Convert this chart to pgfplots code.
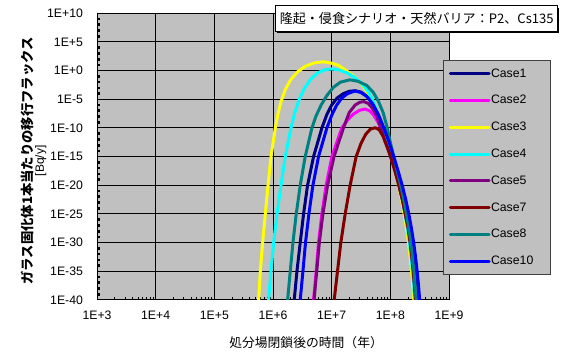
\documentclass[border=0pt]{standalone}
\usepackage{fontspec}
\setmainfont{Liberation Sans}
\newfontfamily\jp{Noto Sans CJK JP}
\usepackage{pgfplots}
\pgfplotsset{compat=1.18}

\definecolor{plotgray}{RGB}{192,192,192}
\definecolor{cNavy}{RGB}{0,0,128}
\definecolor{cMagenta}{RGB}{255,0,255}
\definecolor{cYellow}{RGB}{255,255,0}
\definecolor{cCyan}{RGB}{0,255,255}
\definecolor{cPurple}{RGB}{128,0,128}
\definecolor{cDarkRed}{RGB}{128,0,0}
\definecolor{cTeal}{RGB}{0,128,128}
\definecolor{cBlue}{RGB}{0,0,255}

\begin{document}
\begin{tikzpicture}
\useasboundingbox (0pt,0pt) rectangle (420.75pt,267pt);
\begin{axis}[
  at={(72.75pt,42pt)}, anchor=south west,
  scale only axis, width=264pt, height=215pt,
  xmode=log, ymode=log,
  xmin=1e3, xmax=1e9, ymin=1e-40, ymax=1e10,
  axis background/.style={fill=plotgray},
  xtick={1e3,1e4,1e5,1e6,1e7,1e8,1e9},
  xticklabels={1E+3,1E+4,1E+5,1E+6,1E+7,1E+8,1E+9},
  ytick={1e-40,1e-35,1e-30,1e-25,1e-20,1e-15,1e-10,1e-5,1,1e5,1e10},
  yticklabels={1E-40,1E-35,1E-30,1E-25,1E-20,1E-15,1E-10,1E-5,1E+0,1E+5,1E+10},
  minor xtick={2e3,3e3,4e3,5e3,6e3,7e3,8e3,9e3,
               2e4,3e4,4e4,5e4,6e4,7e4,8e4,9e4,
               2e5,3e5,4e5,5e5,6e5,7e5,8e5,9e5,
               2e6,3e6,4e6,5e6,6e6,7e6,8e6,9e6,
               2e7,3e7,4e7,5e7,6e7,7e7,8e7,9e7,
               2e8,3e8,4e8,5e8,6e8,7e8,8e8,9e8},
  minor ytick={1e-39,1e-38,1e-37,1e-36,1e-34,1e-33,1e-32,1e-31,
               1e-29,1e-28,1e-27,1e-26,1e-24,1e-23,1e-22,1e-21,
               1e-19,1e-18,1e-17,1e-16,1e-14,1e-13,1e-12,1e-11,
               1e-9,1e-8,1e-7,1e-6,1e-4,1e-3,1e-2,1e-1,
               1e1,1e2,1e3,1e4,1e6,1e7,1e8,1e9},
  tick pos=left,
  grid=major,
  major grid style={black, line width=0.75pt},
  axis line style={black, line width=0.75pt},
  major tick length=0pt,
  minor tick length=2.6pt,
  minor x tick style={black, line width=0.6pt},
  minor y tick style={black, line width=2pt},
  ticklabel style={font=\fontsize{9.2}{11}\selectfont},
  xticklabel style={yshift=-5pt},
  yticklabel style={xshift=-7pt},
  xlabel={\jp 処分場閉鎖後の時間（年）},
  xlabel style={at={(axis description cs:0.594,0)}, anchor=center, yshift=-32.25pt,
                font=\fontsize{9.6}{11}\selectfont},
  ylabel={{\jp\bfseries ガラス固化体1本当たりの移行フラックス}\\{\fontsize{9}{9}\selectfont [Bq/y]}},
  ylabel style={at={(axis description cs:-0.180,0.485)}, anchor=center, align=center,
                font=\fontsize{10}{8.5}\selectfont},
  legend cell align=left,
  legend image code/.code={\draw[#1, line width=2.25pt] (0pt,0pt) -- (29pt,0pt);},
  legend style={at={(axis description cs:0.983,0.837)}, anchor=north west,
                fill=plotgray, draw=black!75, line width=0.75pt,
                font=\fontsize{9.2}{11}\selectfont,
                inner xsep=4pt, inner ysep=5pt, row sep=10.3pt,
                nodes={inner sep=0.4pt, text height=7pt, text depth=2pt}},
  every axis plot/.append style={line width=2.25pt, line join=round, line cap=round},
]

% Case1
\addplot[cNavy] coordinates {
(2.138e6,1e-44) (2.301e6,1e-40) (2.559e6,1e-35) (2.911e6,1e-30) (3.319e6,1e-25)
(3.882e6,1e-20) (4.909e6,1e-15) (6.808e6,1e-10) (8.318e6,2.512e-8) (1e7,1e-6)
(1.230e7,1.585e-5) (1.585e7,1e-4) (1.995e7,2.512e-4) (2.512e7,3.162e-4) (3.162e7,1.778e-4)
(3.981e7,3.548e-5) (5.012e7,1.585e-6) (6.166e7,1.995e-8) (7.586e7,1e-10) (9.333e7,3.162e-13)
(1.117e8,1e-15) (1.312e8,3.162e-18) (1.521e8,1e-20) (1.738e8,3.162e-23) (1.950e8,1e-25)
(2.163e8,3.162e-28) (2.355e8,1e-30) (2.529e8,3.162e-33) (2.692e8,1e-35) (2.838e8,3.162e-38)
(2.965e8,1e-40) (3.199e8,1e-44)
};
\addlegendentry{\makebox[40pt][l]{Case1}}

% Case2
\addplot[cMagenta] coordinates {
(4.571e6,1e-44) (4.909e6,1e-40) (5.445e6,1e-35) (5.970e6,1e-30) (6.808e6,1e-25)
(8.054e6,1e-20) (1.007e7,1e-15) (1.489e7,1e-10) (1.905e7,3.162e-9) (2.399e7,3.162e-8)
(3.020e7,1.259e-7) (3.715e7,1.995e-7) (4.467e7,1e-7) (5.248e7,1.585e-8) (6.166e7,1e-9)
(7.244e7,3.162e-11) (8.610e7,2.512e-13) (1.023e8,1e-15) (1.202e8,3.162e-18) (1.396e8,1e-20)
(1.603e8,3.162e-23) (1.799e8,1e-25) (2.018e8,3.162e-28) (2.188e8,1e-30) (2.333e8,3.162e-33)
(2.466e8,1e-35) (2.588e8,3.162e-38) (2.692e8,1e-40) (2.884e8,1e-44)
};
\addlegendentry{\makebox[40pt][l]{Case2}}

% Case3
\addplot[cYellow] coordinates {
(5.309e5,1e-44) (5.689e5,1e-40) (6.081e5,1e-35) (6.653e5,1e-30) (7.396e5,1e-25)
(8.222e5,1e-20) (9.247e5,1e-15) (1.094e6,1e-10) (1.216e6,3.162e-8) (1.380e6,5.012e-6)
(1.622e6,5.012e-4) (1.995e6,2.512e-2) (2.630e6,0.6310) (3.548e6,5.623) (5.012e6,22.39)
(7.244e6,35.48) (1e7,19.95) (1.318e7,7.943) (1.778e7,1) (2.399e7,0.1)
(3.162e7,6.310e-3) (4.169e7,1.259e-4) (5.370e7,1e-6) (6.457e7,1e-8) (7.413e7,1e-10)
(8.810e7,3.162e-13) (1.030e8,1e-15) (1.197e8,3.162e-18) (1.371e8,1e-20) (1.549e8,3.162e-23)
(1.718e8,1e-25) (1.884e8,3.162e-28) (2.042e8,1e-30) (2.178e8,3.162e-33) (2.301e8,1e-35)
(2.415e8,3.162e-38) (2.512e8,1e-40) (2.692e8,1e-44)
};
\addlegendentry{\makebox[40pt][l]{Case3}}

% Case4
\addplot[cCyan] coordinates {
(7.852e5,1e-44) (8.414e5,1e-40) (9.247e5,1e-35) (1.026e6,1e-30) (1.169e6,1e-25)
(1.368e6,1e-20) (1.618e6,1e-15) (2.023e6,1e-10) (2.344e6,3.981e-8) (2.754e6,6.310e-6)
(3.388e6,6.310e-4) (4.365e6,3.162e-2) (5.754e6,0.3981) (7.586e6,1.413) (1e7,1.995)
(1.318e7,1.413) (1.778e7,0.4467) (2.399e7,7.943e-2) (3.162e7,7.943e-3) (4.169e7,2.512e-4)
(5.248e7,2.512e-6) (6.310e7,1.585e-8) (7.586e7,7.943e-11) (9.120e7,3.162e-13) (1.067e8,1e-15)
(1.239e8,3.162e-18) (1.419e8,1e-20) (1.603e8,3.162e-23) (1.778e8,1e-25) (1.950e8,3.162e-28)
(2.113e8,1e-30) (2.254e8,3.162e-33) (2.382e8,1e-35) (2.500e8,3.162e-38) (2.600e8,1e-40)
(2.786e8,1e-44)
};
\addlegendentry{\makebox[40pt][l]{Case4}}

% Case5
\addplot[cPurple] coordinates {
(4.677e6,1e-44) (5.012e6,1e-40) (5.559e6,1e-35) (6.166e6,1e-30) (7.079e6,1e-25)
(8.511e6,1e-20) (1.096e7,1e-15) (1.585e7,1e-10) (1.995e7,5.012e-8) (2.512e7,1e-6)
(3.020e7,3.162e-6) (3.548e7,3.981e-6) (4.169e7,1.995e-6) (5.012e7,2.512e-7) (5.888e7,1e-8)
(6.918e7,1e-10) (8.128e7,3.981e-13) (1.023e8,1e-15) (1.202e8,3.162e-18) (1.396e8,1e-20)
(1.603e8,3.162e-23) (1.799e8,1e-25) (2.018e8,3.162e-28) (2.188e8,1e-30) (2.333e8,3.162e-33)
(2.466e8,1e-35) (2.588e8,3.162e-38) (2.692e8,1e-40) (2.884e8,1e-44)
};
\addlegendentry{\makebox[40pt][l]{Case5}}

% Case7
\addplot[cDarkRed] coordinates {
(1.035e7,1e-44) (1.104e7,1e-40) (1.256e7,1e-35) (1.432e7,1e-30) (1.698e7,1e-25)
(2.065e7,1e-20) (2.612e7,1e-15) (3.162e7,1.995e-13) (3.802e7,7.943e-12) (4.571e7,6.310e-11)
(5.495e7,1.122e-10) (6.457e7,5.012e-11) (7.586e7,3.162e-12) (8.810e7,6.310e-14) (1.023e8,6.310e-16)
(1.202e8,3.162e-18) (1.396e8,1e-20) (1.603e8,3.162e-23) (1.799e8,1e-25) (2.018e8,3.162e-28)
(2.188e8,1e-30) (2.333e8,3.162e-33) (2.466e8,1e-35) (2.588e8,3.162e-38) (2.692e8,1e-40)
(2.884e8,1e-44)
};
\addlegendentry{\makebox[40pt][l]{Case7}}

% Case8
\addplot[cTeal] coordinates {
(1.641e6,1e-44) (1.774e6,1e-40) (1.968e6,1e-35) (2.188e6,1e-30) (2.489e6,1e-25)
(2.911e6,1e-20) (3.540e6,1e-15) (4.603e6,1e-10) (5.370e6,1e-8) (6.607e6,1e-6)
(8.318e6,5.012e-5) (1.072e7,1.259e-3) (1.413e7,1e-2) (2.042e7,2.512e-2) (2.818e7,1.413e-2)
(3.981e7,2.512e-3) (5.129e7,1.585e-4) (6.310e7,3.981e-6) (7.586e7,3.981e-8) (8.810e7,1.259e-10)
(1e8,3.162e-13) (1.148e8,1e-15) (1.312e8,3.162e-18) (1.503e8,1e-20) (1.698e8,3.162e-23)
(1.884e8,1e-25) (2.065e8,3.162e-28) (2.239e8,1e-30) (2.388e8,3.162e-33) (2.523e8,1e-35)
(2.649e8,3.162e-38) (2.754e8,1e-40) (2.951e8,1e-44)
};
\addlegendentry{\makebox[40pt][l]{Case8}}

% Case10
\addplot[cBlue] coordinates {
(2.723e6,1e-44) (2.911e6,1e-40) (3.236e6,1e-35) (3.581e6,1e-30) (4.093e6,1e-25)
(4.786e6,1e-20) (5.970e6,1e-15) (8.279e6,1e-10) (1e7,1.585e-8) (1.202e7,7.943e-7)
(1.479e7,1.585e-5) (1.862e7,1e-4) (2.512e7,2.818e-4) (3.162e7,1.585e-4) (3.981e7,3.162e-5)
(5.012e7,1.585e-6) (6.310e7,1.995e-8) (7.762e7,1e-10) (9.550e7,3.162e-13) (1.143e8,1e-15)
(1.358e8,3.162e-18) (1.592e8,1e-20) (1.832e8,3.162e-23) (2.065e8,1e-25) (2.291e8,3.162e-28)
(2.500e8,1e-30) (2.692e8,3.162e-33) (2.864e8,1e-35) (3.027e8,3.162e-38) (3.162e8,1e-40)
(3.388e8,1e-44)
};
\addlegendentry{\makebox[40pt][l]{Case10}}

\end{axis}

% Scenario caption box with a drop shadow (pixel-style coordinates, origin top left)
\begin{scope}[x=0.75pt, y=-0.75pt, yshift=267pt]
\fill[black] (277,8) rectangle (559,33.5);
\filldraw[draw=black, line width=0.75pt, fill=white] (275,6) rectangle (557,31.7);
\node[anchor=west, inner sep=0pt, font=\jp\fontsize{9.8}{11}\selectfont]
      at (279.5,19) {隆起・侵食シナリオ・天然バリア：P2、Cs135};
\end{scope}
\end{tikzpicture}
\end{document}
